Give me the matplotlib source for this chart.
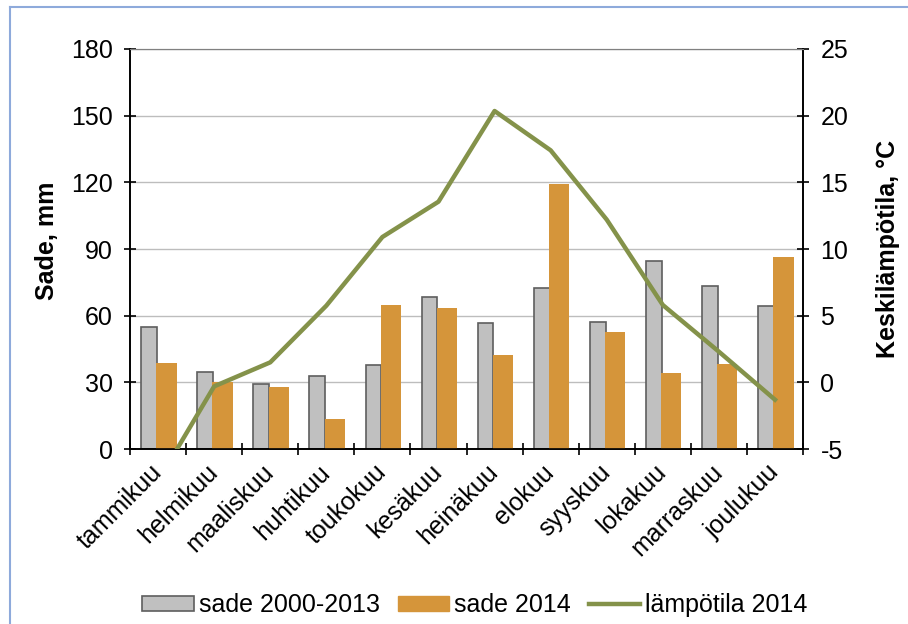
import matplotlib.pyplot as plt
import numpy as np
from matplotlib.lines import Line2D
from matplotlib.patches import Rectangle

plt.rcParams['font.family'] = ['Liberation Sans', 'DejaVu Sans']
plt.rcParams['axes.unicode_minus'] = False

# ─── Data ───────────────────────────────────────────────────────────────
months = ['tammikuu', 'helmikuu', 'maaliskuu', 'huhtikuu', 'toukokuu', 'kesäkuu',
          'heinäkuu', 'elokuu', 'syyskuu', 'lokakuu', 'marraskuu', 'joulukuu']
rain_avg = [55, 34.5, 29.2, 32.8, 38, 68.5, 56.6, 72.3, 57, 84.7, 73.5, 64.3]
rain_2014 = [38.6, 30, 28, 13.4, 64.8, 63.3, 42.3, 119.3, 52.8, 34, 38.1, 86.3]
temp_2014 = [-7.4, -0.3, 1.5, 5.75, 10.9, 13.55, 20.35, 17.4, 12.2, 5.8, 2.3, -1.3]

gray = '#c0c0c0'
orange = '#d5953a'
olive = '#84924a'
fs = 18

fig = plt.figure(figsize=(9.08, 6.24), dpi=100)
ax = fig.add_axes([0.1432, 0.2804, 0.7412, 0.6411])
ax2 = ax.twinx()

x = np.arange(len(months))
ax.bar(x - 0.30, rain_avg, width=0.28, align='edge', color=gray,
       edgecolor='#5e5e5e', linewidth=1.2, zorder=2)
ax.bar(x - 0.03, rain_2014, width=0.36, align='edge', color=orange,
       edgecolor=orange, linewidth=0, zorder=3)
ax2.plot(x, temp_2014, color=olive, lw=3.2, zorder=4)

ax.set_xlim(-0.5, 11.5)
ax.set_ylim(0, 180)
ax.set_yticks(range(0, 181, 30))
ax2.set_ylim(-5, 25)
ax2.set_yticks(range(-5, 26, 5))

ax.set_xticks(np.arange(-0.5, 12, 1), minor=False)
ax.set_xticklabels([])
ax.set_xticks(x, minor=True)
ax.set_xticklabels(months, minor=True, rotation=45, ha='right', va='center',
                   rotation_mode='anchor', fontsize=fs)
ax.tick_params(axis='x', which='minor', length=0, pad=14)
ax.tick_params(axis='x', which='major', direction='inout', length=9, width=1.2)
ax.tick_params(axis='y', direction='inout', length=9, width=1.2, labelsize=fs, pad=8)
ax2.tick_params(axis='y', direction='inout', length=9, width=1.2, labelsize=fs, pad=8)

ax.yaxis.grid(True, color='#bdbdbd', lw=1, zorder=0)
ax.set_axisbelow(True)
for a in (ax, ax2):
    a.spines['top'].set_color('#808080')
    a.spines['left'].set_linewidth(1.2)
    a.spines['right'].set_linewidth(1.2)
    a.spines['bottom'].set_linewidth(1.2)
ax.set_zorder(ax2.get_zorder() - 1)
ax.patch.set_visible(False)
ax2.patch.set_visible(False)

ax.set_ylabel('Sade, mm', fontsize=fs, fontweight='bold')
ax.yaxis.set_label_coords(-0.105, 0.52)
ax2.set_ylabel('Keskilämpötila, °C', fontsize=fs, fontweight='bold')
ax2.yaxis.set_label_coords(1.108, 0.5)

handles = [Rectangle((0, 0), 1, 1, facecolor=gray, edgecolor='#5e5e5e', lw=1.2),
           Rectangle((0, 0), 1, 1, facecolor=orange, edgecolor=orange),
           Line2D([], [], color=olive, lw=3.2)]
fig.legend(handles, ['sade 2000-2013', 'sade 2014', 'lämpötila 2014'],
           loc='center', bbox_to_anchor=(0.523, 0.03), ncol=3, frameon=False,
           fontsize=fs, handlelength=2.05, handleheight=0.6,
           handletextpad=0.2, columnspacing=0.72)

# blue frame edges
fig.add_artist(Line2D([0.011, 0.011], [0, 0.989], color='#8eaadb', lw=1.5,
                      transform=fig.transFigure))
fig.add_artist(Line2D([0.011, 1], [0.989, 0.989], color='#8eaadb', lw=1.5,
                      transform=fig.transFigure))

fig.savefig('out.png', dpi=100)
